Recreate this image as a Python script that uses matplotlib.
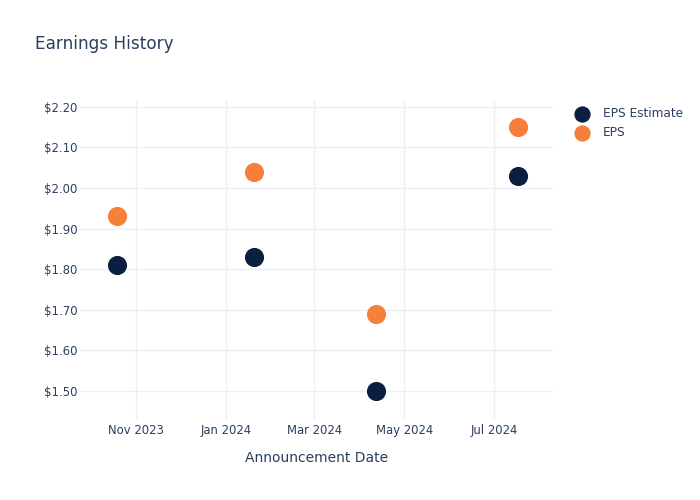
import pandas as pd
import matplotlib.pyplot as plt
import matplotlib.dates as mdates
import matplotlib.ticker as mtick

# data
dates = pd.to_datetime(["2023-10-19", "2024-01-20", "2024-04-12", "2024-07-17"])
eps_estimate = [1.81, 1.83, 1.50, 2.03]
eps_actual = [1.93, 2.04, 1.69, 2.15]

text_col = "#2a3f5f"
grid_col = "#ebf0f8"

fig = plt.figure(figsize=(7, 5), dpi=100)
ax = fig.add_axes([80 / 700, 80 / 500, 473 / 700, 320 / 500])

ax.scatter(dates, eps_estimate, s=190, color="#0b1f40", label="EPS Estimate", zorder=3, linewidths=0)
ax.scatter(dates, eps_actual, s=190, color="#f6803a", label="EPS", zorder=3, linewidths=0)

ax.set_xlim(pd.Timestamp("2023-09-24"), pd.Timestamp("2024-08-10"))
ax.set_ylim(1.4285, 2.217)

ax.xaxis.set_major_locator(mdates.MonthLocator(bymonth=[1, 3, 5, 7, 11]))
ax.xaxis.set_major_formatter(mdates.DateFormatter("%b %Y"))
ax.yaxis.set_major_locator(mtick.MultipleLocator(0.1))
ax.yaxis.set_major_formatter(mtick.StrMethodFormatter("${x:.2f}"))

for s in ax.spines.values():
    s.set_visible(False)
ax.grid(True, color=grid_col, linewidth=1)
ax.set_axisbelow(True)
ax.tick_params(length=0, labelsize=8.4, labelcolor=text_col)
ax.tick_params(axis="y", pad=2)
ax.tick_params(axis="x", pad=3)

ax.set_xlabel("Announcement Date", fontsize=10, color=text_col, labelpad=10)
fig.text(35 / 700, 1 - 44 / 500, "Earnings History", fontsize=12.2, color=text_col, va="center")

leg = ax.legend(loc="upper left", bbox_to_anchor=(1.026, 0.992), frameon=False,
                fontsize=8.7, labelcolor=text_col, handletextpad=0.7, borderaxespad=0,
                labelspacing=0.45, markerscale=0.85)

fig.savefig("out.png", dpi=100)
